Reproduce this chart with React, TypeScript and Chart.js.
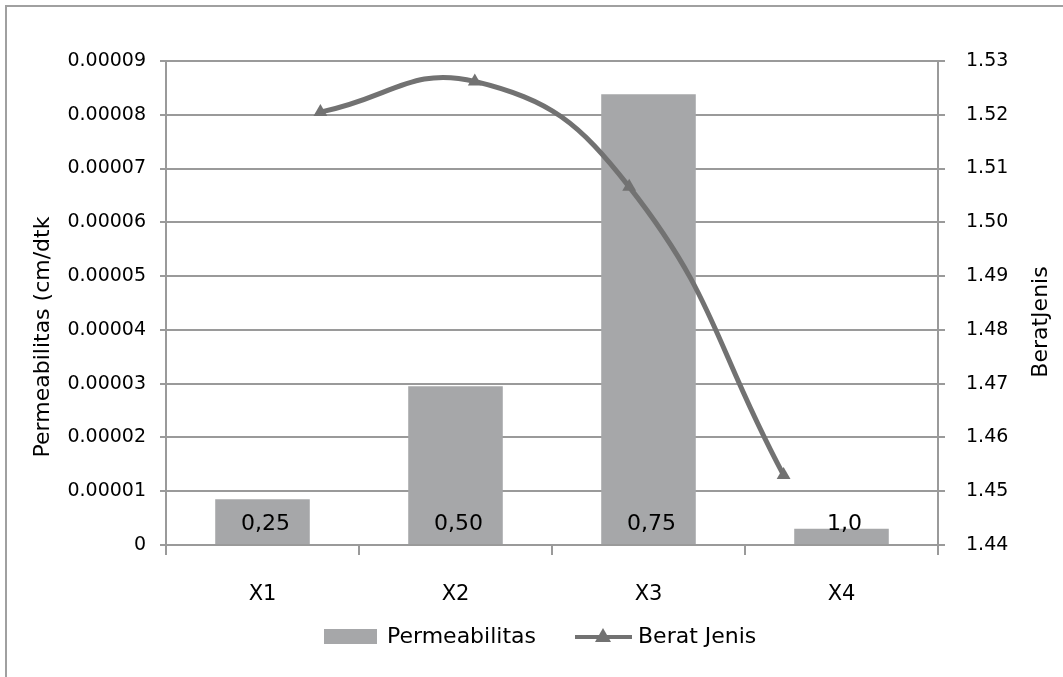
import React, { useEffect, useRef } from "react";
import { Chart, registerables } from "chart.js";

Chart.register(...registerables);

const categories = ["X1", "X2", "X3", "X4"];
const permeabilitas = [0.0000085, 0.0000295, 0.0000838, 0.000003];
const barLabels = ["0,25", "0,50", "0,75", "1,0"];
const beratJenisX = [1, 2, 3, 4];
const beratJenis = [1.5205, 1.5262, 1.5066, 1.453];
const leftTickLabels = [
  "0", "0.00001", "0.00002", "0.00003", "0.00004",
  "0.00005", "0.00006", "0.00007", "0.00008", "0.00009",
];
const rightTickLabels = [
  "1.44", "1.45", "1.46", "1.47", "1.48",
  "1.49", "1.50", "1.51", "1.52", "1.53",
];
const seriesNames = ["Permeabilitas", "Berat Jenis"];
const leftAxisTitle = "Permeabilitas (cm/dtk";
const rightAxisTitle = "BeratJenis";

const FONT = "'DejaVu Sans', sans-serif";
const BAR_COLOR = "#a6a7a9";
const LINE_COLOR = "#727272";
const GRID_COLOR = "#9a9a9a";
const TEXT_COLOR = "#000000";

const framePlugin = {
  id: "frame",
  beforeDraw(chart: any) {
    const { ctx, width, height } = chart;
    ctx.save();
    ctx.fillStyle = "#ffffff";
    ctx.fillRect(0, 0, width, height);
    ctx.strokeStyle = "#a0a0a0";
    ctx.lineWidth = 2;
    ctx.beginPath();
    ctx.moveTo(6, height);
    ctx.lineTo(6, 6);
    ctx.lineTo(width, 6);
    ctx.stroke();
    ctx.restore();
  },
};

const barLabelPlugin = {
  id: "barLabels",
  afterDatasetsDraw(chart: any) {
    const { ctx } = chart;
    const meta = chart.getDatasetMeta(1);
    const yScale = chart.scales.y;
    const base = yScale.getPixelForValue(0);
    ctx.save();
    ctx.font = `22px ${FONT}`;
    ctx.fillStyle = TEXT_COLOR;
    ctx.textAlign = "center";
    ctx.textBaseline = "middle";
    meta.data.forEach((bar: any, i: number) => {
      ctx.fillText(barLabels[i], bar.x + 3, base - 21);
    });
    ctx.restore();
  },
};

const titlesPlugin = {
  id: "axisTitles",
  afterDraw(chart: any) {
    const { ctx, chartArea } = chart;
    const midY = (chartArea.top + chartArea.bottom) / 2;
    ctx.save();
    ctx.font = `22px ${FONT}`;
    ctx.fillStyle = TEXT_COLOR;
    ctx.textAlign = "center";
    ctx.textBaseline = "middle";
    ctx.translate(43, midY + 34);
    ctx.rotate(-Math.PI / 2);
    ctx.fillText(leftAxisTitle, 0, 0);
    ctx.restore();

    ctx.save();
    ctx.font = `22px ${FONT}`;
    ctx.fillStyle = TEXT_COLOR;
    ctx.textAlign = "center";
    ctx.textBaseline = "middle";
    ctx.translate(chartArea.right + 103, midY + 19);
    ctx.rotate(-Math.PI / 2);
    ctx.fillText(rightAxisTitle, 0, 0);
    ctx.restore();
  },
};

const legendPlugin = {
  id: "customLegend",
  afterDraw(chart: any) {
    const { ctx } = chart;
    const y = 637;
    ctx.save();
    ctx.font = `22px ${FONT}`;
    ctx.fillStyle = TEXT_COLOR;
    ctx.textBaseline = "middle";
    ctx.textAlign = "left";
    ctx.fillStyle = BAR_COLOR;
    ctx.fillRect(324, y - 8, 53, 15);
    ctx.fillStyle = TEXT_COLOR;
    ctx.fillText(seriesNames[0], 387, y);
    ctx.strokeStyle = LINE_COLOR;
    ctx.lineWidth = 4;
    ctx.beginPath();
    ctx.moveTo(575, y);
    ctx.lineTo(632, y);
    ctx.stroke();
    ctx.fillStyle = LINE_COLOR;
    ctx.beginPath();
    ctx.moveTo(603, y - 9);
    ctx.lineTo(611, y + 5);
    ctx.lineTo(595, y + 5);
    ctx.closePath();
    ctx.fill();
    ctx.fillStyle = TEXT_COLOR;
    ctx.fillText(seriesNames[1], 638, y);
    ctx.restore();
  },
};

export default function App() {
  const canvasRef = useRef<HTMLCanvasElement | null>(null);

  useEffect(() => {
    if (!canvasRef.current) return;
    const chart = new Chart(canvasRef.current, {
      type: "bar",
      data: {
        labels: categories,
        datasets: [
          {
            type: "line",
            label: seriesNames[1],
            data: beratJenisX.map((x, i) => ({ x, y: beratJenis[i] })),
            xAxisID: "x2",
            yAxisID: "y1",
            borderColor: LINE_COLOR,
            backgroundColor: LINE_COLOR,
            borderWidth: 5,
            tension: 0.45,
            pointStyle: "triangle",
            pointRadius: 8,
            pointBorderWidth: 0,
            pointBackgroundColor: LINE_COLOR,
            order: 0,
          } as any,
          {
            type: "bar",
            label: seriesNames[0],
            data: permeabilitas,
            xAxisID: "x",
            yAxisID: "y",
            backgroundColor: BAR_COLOR,
            borderWidth: 0,
            grouped: false,
            categoryPercentage: 1,
            barPercentage: 0.49,
            order: 1,
          } as any,
        ],
      },
      options: {
        responsive: false,
        animation: false,
        layout: { padding: { top: 61, left: 0, right: 0, bottom: 0 } },
        plugins: {
          legend: { display: false },
          tooltip: { enabled: false },
        },
        scales: {
          x: {
            type: "category",
            position: "bottom",
            offset: true,
            grid: {
              offset: true,
              drawOnChartArea: false,
              drawTicks: true,
              tickLength: 10,
              color: GRID_COLOR,
              lineWidth: 2,
            },
            border: { display: true, color: GRID_COLOR, width: 2 },
            ticks: {
              color: TEXT_COLOR,
              font: { family: FONT, size: 21 },
              padding: 27,
            },
            afterFit(scale: any) {
              scale.height = 132;
            },
          },
          x2: {
            type: "linear",
            display: false,
            offset: false,
            bounds: "ticks",
            min: 0,
            max: 5,
            grid: { offset: false },
          },
          y: {
            type: "linear",
            position: "left",
            min: 0,
            max: 0.00009,
            grid: {
              color: GRID_COLOR,
              lineWidth: 2,
              drawTicks: true,
              tickLength: 6,
            },
            border: { display: true, color: GRID_COLOR, width: 2 },
            ticks: {
              color: TEXT_COLOR,
              font: { family: FONT, size: 19 },
              padding: 14,
              callback: (_v: any, i: number) => leftTickLabels[i],
            },
            afterBuildTicks(scale: any) {
              scale.ticks = leftTickLabels.map((l) => ({ value: parseFloat(l) }));
            },
            afterFit(scale: any) {
              scale.width = 166;
            },
          },
          y1: {
            type: "linear",
            position: "right",
            min: 1.44,
            max: 1.53,
            grid: {
              drawOnChartArea: false,
              drawTicks: true,
              tickLength: 7,
              color: GRID_COLOR,
              lineWidth: 2,
            },
            border: { display: true, color: GRID_COLOR, width: 2 },
            ticks: {
              color: TEXT_COLOR,
              font: { family: FONT, size: 19 },
              padding: 21,
              callback: (_v: any, i: number) => rightTickLabels[i],
            },
            afterBuildTicks(scale: any) {
              scale.ticks = rightTickLabels.map((l) => ({ value: parseFloat(l) }));
            },
            afterFit(scale: any) {
              scale.width = 125;
            },
          },
        },
      } as any,
      plugins: [framePlugin, barLabelPlugin, titlesPlugin, legendPlugin],
    });
    return () => chart.destroy();
  }, []);

  return (
    <div style={{ position: "absolute", left: 0, top: 0, width: 1063, height: 677, background: "#fff" }}>
      <canvas ref={canvasRef} width={1063} height={677} style={{ display: "block" }} />
    </div>
  );
}
